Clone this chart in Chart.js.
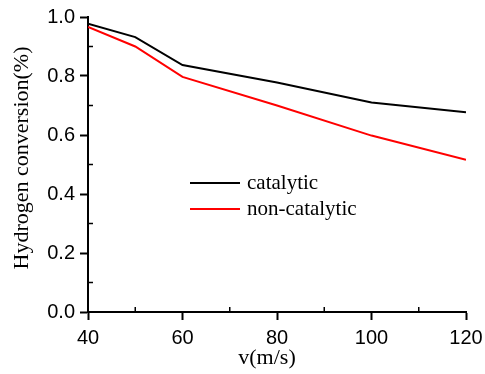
<!DOCTYPE html>
<html>
<head>
<meta charset="utf-8">
<script src="https://cdn.jsdelivr.net/npm/chart.js@4"></script>
<style>
  html, body { margin: 0; padding: 0; background: #fff; }
  #wrap { width: 485px; height: 374px; }
</style>
</head>
<body>
<div id="wrap"><canvas id="conv" width="485" height="374"></canvas></div>
<script>
const velocities = [40, 50, 60, 80, 100, 120];
const catalytic = [0.977, 0.932, 0.837, 0.778, 0.71, 0.677];
const nonCatalytic = [0.966, 0.90, 0.797, 0.70, 0.598, 0.516];
const seriesNames = ["catalytic", "non-catalytic"];
const seriesColors = ["#000000", "#ff0000"];
const xTicks = [40, 60, 80, 100, 120];
const yTicks = [0.0, 0.2, 0.4, 0.6, 0.8, 1.0];

const toPoints = (vals) => velocities.map((v, i) => ({ x: v, y: vals[i] }));

// minor ticks point inward, axis titles + legend drawn by hand
const extras = {
  id: "extras",
  afterDraw(chart) {
    const ctx = chart.ctx;
    const xs = chart.scales.x, ys = chart.scales.y;
    const area = chart.chartArea;
    ctx.save();
    ctx.strokeStyle = "#000";
    ctx.lineWidth = 1.5;
    for (let v = 50; v < 120; v += 20) {
      const px = xs.getPixelForValue(v);
      ctx.beginPath();
      ctx.moveTo(px, area.bottom);
      ctx.lineTo(px, area.bottom - 5);
      ctx.stroke();
    }
    for (let v = 0.1; v < 1.0; v += 0.2) {
      const py = ys.getPixelForValue(v);
      ctx.beginPath();
      ctx.moveTo(area.left, py);
      ctx.lineTo(area.left + 5, py);
      ctx.stroke();
    }

    ctx.fillStyle = "#000";
    ctx.font = "22px 'Liberation Serif'";
    ctx.textAlign = "center";
    ctx.textBaseline = "alphabetic";
    ctx.fillText("v(m/s)", 267, 364);

    ctx.translate(28, 158);
    ctx.rotate(-Math.PI / 2);
    ctx.fillText("Hydrogen conversion(%)", 0, 0);
    ctx.restore();

    // legend
    ctx.save();
    ctx.font = "21px 'Liberation Serif'";
    ctx.textBaseline = "middle";
    ctx.textAlign = "left";
    seriesNames.forEach((name, i) => {
      const y = 183 + i * 26;
      ctx.strokeStyle = seriesColors[i];
      ctx.lineWidth = 2;
      ctx.beginPath();
      ctx.moveTo(190, y);
      ctx.lineTo(240, y);
      ctx.stroke();
      ctx.fillStyle = "#000";
      ctx.fillText(name, 247, y);
    });
    ctx.restore();
  }
};

const chart = new Chart(document.getElementById("conv").getContext("2d"), {
  type: "line",
  data: {
    datasets: [
      {
        label: seriesNames[0],
        data: toPoints(catalytic),
        borderColor: seriesColors[0],
        borderWidth: 2,
        pointRadius: 0,
        tension: 0
      },
      {
        label: seriesNames[1],
        data: toPoints(nonCatalytic),
        borderColor: seriesColors[1],
        borderWidth: 2,
        pointRadius: 0,
        tension: 0
      }
    ]
  },
  options: {
    responsive: false,
    animation: false,
    devicePixelRatio: 1,
    layout: { padding: { left: 0, right: 19, top: 17, bottom: 0 } },
    plugins: {
      legend: { display: false },
      tooltip: { enabled: false }
    },
    scales: {
      x: {
        type: "linear",
        min: 40,
        max: 120,
        afterFit(scale) {
          scale.height = 62;
          scale.paddingLeft = 0;
          scale.paddingRight = 0;
        },
        afterBuildTicks(scale) { scale.ticks = xTicks.map(v => ({ value: v })); },
        border: { color: "#000", width: 2 },
        grid: { drawOnChartArea: false, color: "#000", tickLength: 8, tickWidth: 2 },
        ticks: {
          color: "#000",
          padding: 6,
          maxRotation: 0,
          font: { family: "'Liberation Sans'", size: 20 }
        }
      },
      y: {
        min: 0,
        max: 1.0,
        afterFit(scale) { scale.width = 88; },
        afterBuildTicks(scale) { scale.ticks = yTicks.map(v => ({ value: v })); },
        border: { color: "#000", width: 2 },
        grid: { drawOnChartArea: false, color: "#000", tickLength: 8, tickWidth: 2 },
        ticks: {
          color: "#000",
          padding: 5,
          font: { family: "'Liberation Sans'", size: 20 },
          callback: (v) => Number(v).toFixed(1)
        }
      }
    }
  },
  plugins: [extras]
});
</script>
</body>
</html>
